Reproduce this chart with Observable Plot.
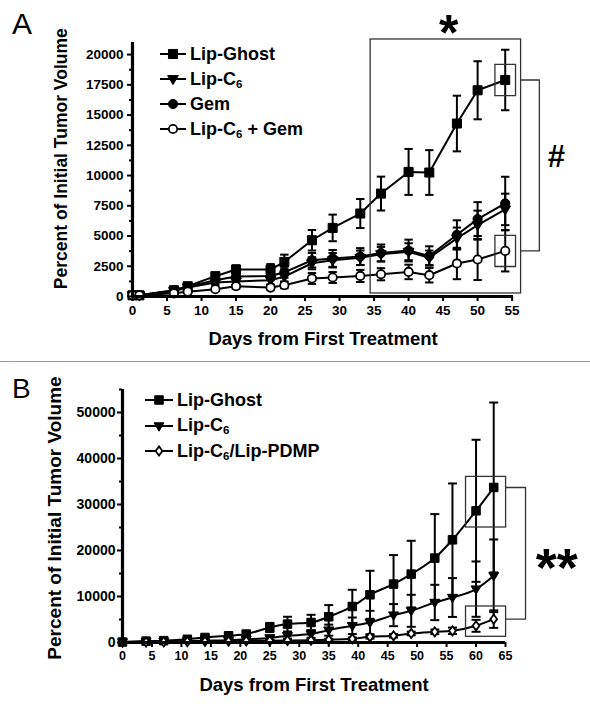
<!DOCTYPE html>
<html><head><meta charset="utf-8">
<script src="https://cdn.jsdelivr.net/npm/d3@7"></script>
<script src="https://cdn.jsdelivr.net/npm/@observablehq/plot@0.6"></script>
<style>
body{margin:0;background:#fff;}
#wrap{position:relative;width:590px;height:708px;overflow:hidden;background:#fff;font-family:Arial,"Liberation Sans",sans-serif;color:#000;}
.panel{position:absolute;left:0;}
.letter{position:absolute;left:12px;font-weight:normal;line-height:1;}
.legend{position:absolute;font-weight:bold;font-size:18px;}
.row{position:absolute;left:0;display:flex;align-items:center;white-space:nowrap;height:20px;}
.row svg{margin-right:4px;}
sub{font-size:11.5px;vertical-align:-3px;line-height:0;}
#sep{position:absolute;left:0;top:361px;width:590px;height:0;border-top:1.6px solid #9a9a9a;}
</style></head><body>
<div id="wrap">
  <div id="panelA" class="panel" style="top:0"></div>
  <div id="sep"></div>
  <div id="panelB" class="panel" style="top:363px"></div>
  <div class="letter" style="top:9px;font-size:30px">A</div>
  <div class="letter" style="top:375px;font-size:28px">B</div>
  <div id="legA" class="legend" style="left:160px;top:0"></div>
  <div id="legB" class="legend" style="left:145px;top:0"></div>
</div>
<script>
// ---------- Panel A data ----------
const A_days = [0, 1, 6, 8, 12, 15, 20, 22, 26, 29, 33, 36, 40, 43, 47, 50, 54];
const A_ghost    = [100, 100, 520, 850, 1680, 2230, 2230, 2860, 4650, 5670, 6860, 8510, 10300, 10250, 14300, 17050, 17900];
const A_ghostErr = [0, 0, 150, 200, 300, 350, 450, 600, 850, 1100, 1200, 1400, 1900, 1850, 2300, 2400, 2500];
const A_c6       = [100, 100, 450, 750, 1150, 1250, 1350, 1650, 2750, 3000, 3200, 3500, 3700, 3200, 4800, 5900, 7200];
const A_c6Err    = [0, 0, 100, 150, 200, 300, 350, 400, 500, 600, 600, 600, 700, 600, 900, 1200, 1300];
const A_gem      = [100, 100, 500, 800, 1350, 1650, 1700, 2000, 3000, 3150, 3300, 3600, 3800, 3350, 5100, 6400, 7700];
const A_gemErr   = [0, 0, 100, 150, 200, 300, 350, 450, 600, 700, 700, 700, 900, 800, 1200, 1400, 2200];
const A_combo    = [100, 100, 260, 400, 600, 850, 740, 930, 1490, 1570, 1700, 1840, 2030, 1760, 2730, 3060, 3770];
const A_comboErr = [0, 0, 80, 100, 150, 200, 200, 250, 450, 450, 500, 500, 600, 600, 1300, 1700, 1700];
const A_yTicks = [0, 2500, 5000, 7500, 10000, 12500, 15000, 17500, 20000];
const A_yMinor = [1250, 3750, 6250, 8750, 11250, 13750, 16250, 18750];
const A_xTicks = [0, 5, 10, 15, 20, 25, 30, 35, 40, 45, 50, 55];
const A_labels = ["Lip-Ghost", "Lip-C<sub>6</sub>", "Gem", "Lip-C<sub>6</sub> + Gem"];
// annotation (significance) in data units
const A_sigBox = [{x1: 34.5, x2: 56.3, y1: 250, y2: 21250}];
const A_bracketX = [56.3, 58.95];
const A_star = [{day: 45.8, v: 21700, label: "*"}];
const A_hash = [{day: 61.4, v: 11500, label: "#"}];

// ---------- Panel B data ----------
const B_days = [0, 4, 7, 11, 14, 18, 21, 25, 28, 32, 35, 39, 42, 46, 49, 53, 56, 60, 63];
const B_ghost    = [100, 300, 400, 700, 1090, 1460, 1830, 3260, 4000, 4350, 5590, 7830, 10370, 12700, 14870, 18350, 22330, 28630, 33700];
const B_ghostErr = [0, 100, 100, 200, 300, 400, 600, 1000, 1600, 1670, 2540, 3630, 5220, 6300, 7240, 9560, 12240, 15440, 18470];
const B_c6       = [100, 150, 200, 300, 400, 500, 700, 1000, 1460, 1830, 2690, 3630, 4350, 5950, 6890, 8700, 9780, 11600, 14500];
const B_c6Err    = [0, 100, 100, 150, 200, 250, 300, 400, 600, 800, 1200, 1800, 2540, 2400, 3480, 3840, 4220, 6010, 7900];
const B_pdmp     = [100, 100, 150, 200, 250, 300, 350, 400, 450, 500, 600, 800, 1240, 1460, 1960, 2320, 2540, 3630, 5080];
const B_pdmpErr  = [0, 0, 0, 50, 50, 50, 80, 100, 100, 150, 200, 300, 400, 400, 400, 500, 700, 1300, 1900];
const B_yTicks = [0, 10000, 20000, 30000, 40000, 50000];
const B_yMinor = [5000, 15000, 25000, 35000, 45000, 55000];
const B_xTicks = [0, 5, 10, 15, 20, 25, 30, 35, 40, 45, 50, 55, 60, 65];
const B_labels = ["Lip-Ghost", "Lip-C<sub>6</sub>", "Lip-C<sub>6</sub>/Lip-PDMP"];
const B_boxes = [{x1: 58.3, x2: 65.1, y1: 25000, y2: 36000}, {x1: 58.3, x2: 65.1, y1: 1240, y2: 7830}];
const B_bracketX = [65.1, 68.4];
const B_star = [{day: 73.7, v: 16000, label: "**"}];

const xTitle = "Days from First Treatment";
const yTitle = "Percent of Initial Tumor Volume";

// ---------- symbols ----------
const rOf = size => Math.sqrt(size / Math.PI);
const triDown = {draw(ctx, size) { const r = rOf(size); const w = r * 1.25, h1 = r * 0.8, h2 = r * 1.3;
  ctx.moveTo(-w, -h1); ctx.lineTo(w, -h1); ctx.lineTo(0, h2); ctx.closePath(); }};
const diamond = {draw(ctx, size) { const r = rOf(size); const w = r * 0.85, h = r * 1.15;
  ctx.moveTo(0, -h); ctx.lineTo(w, 0); ctx.lineTo(0, h); ctx.lineTo(-w, 0); ctx.closePath(); }};
const capSym = {draw(ctx, size) { const r = rOf(size); ctx.moveTo(-r, 0); ctx.lineTo(r, 0); }};
const boxSym = (w, h) => ({draw(ctx) { ctx.rect(-w, -h, 2 * w, 2 * h); }});

const seriesA = [
  {key: "ghost", values: A_ghost, err: A_ghostErr, symbol: "square", r: 5.1, fill: "black"},
  {key: "c6", values: A_c6, err: A_c6Err, symbol: triDown, r: 4.3, fill: "black"},
  {key: "gem", values: A_gem, err: A_gemErr, symbol: "circle", r: 4.6, fill: "black"},
  {key: "combo", values: A_combo, err: A_comboErr, symbol: "circle", r: 4.2, fill: "white"}
];
const seriesB = [
  {key: "ghost", values: B_ghost, err: B_ghostErr, symbol: "square", r: 4.8, fill: "black"},
  {key: "c6", values: B_c6, err: B_c6Err, symbol: triDown, r: 4.0, fill: "black"},
  {key: "pdmp", values: B_pdmp, err: B_pdmpErr, symbol: diamond, r: 4.0, fill: "white"}
];
const tidy = (series, days) => series.flatMap(s => days.map((d, i) => ({series: s.key, day: d, v: s.values[i], e: s.err[i]})));

function panel(cfg) {
  const rows = tidy(cfg.series, cfg.days);
  const errs = rows.filter(d => d.e > 0);
  const marks = [
    Plot.line(rows, {x: "day", y: "v", z: "series", stroke: "black", strokeWidth: 2, curve: cfg.curve}),
    Plot.ruleX(errs, {x: "day", y1: d => d.v - d.e, y2: d => d.v + d.e, stroke: "black", strokeWidth: 2}),
    Plot.dot(errs, {x: "day", y: d => d.v + d.e, symbol: capSym, r: cfg.cap, fill: "none", stroke: "black", strokeWidth: 2}),
    Plot.dot(errs, {x: "day", y: d => d.v - d.e, symbol: capSym, r: cfg.cap, fill: "none", stroke: "black", strokeWidth: 2}),
    ...cfg.series.map(s => Plot.dot(rows.filter(d => d.series === s.key), {x: "day", y: "v", symbol: s.symbol, r: s.r, fill: s.fill, stroke: "black", strokeWidth: s.fill === "white" ? 1.8 : 1})),
    Plot.ruleX([0], {stroke: "black", strokeWidth: 3.2}),
    Plot.ruleY([0], {stroke: "black", strokeWidth: 3.2}),
    Plot.axisX(cfg.xTicks, {tickSize: 5, tickPadding: 4, strokeWidth: 2, fontSize: cfg.xFont, tickFormat: d => String(d), label: null}),
    Plot.axisY(cfg.yTicks, {tickSize: 5, tickPadding: cfg.yPad, strokeWidth: 2, fontSize: cfg.yFont, tickFormat: d => String(d), label: null}),
    Plot.axisY(cfg.yMinor, {tickSize: 3, strokeWidth: 2, tickFormat: () => "", label: null}),
    Plot.text([xTitle], {frameAnchor: "bottom", lineAnchor: "middle", dy: cfg.xTitleDy, fontSize: 18.5, fontWeight: "bold"}),
    Plot.text([yTitle], {frameAnchor: "left", rotate: -90, lineAnchor: "middle", textAnchor: "middle", dx: cfg.yTitleDx, dy: cfg.yTitleDy, fontSize: cfg.yTitleFont, fontWeight: "bold"}),
    ...cfg.annotations
  ];
  return Plot.plot({
    width: 590, height: cfg.height,
    marginLeft: cfg.ml, marginRight: cfg.mr, marginTop: cfg.mt, marginBottom: cfg.mb,
    x: {domain: cfg.xDomain, axis: null},
    y: {domain: cfg.yDomain, axis: null},
    style: {fontFamily: "Arial, 'Liberation Sans', sans-serif", fontWeight: "bold", color: "black", background: "transparent", overflow: "visible"},
    marks
  });
}

// ----- Panel A -----
const nA = A_days.length - 1;
const A_boxPts = [{day: A_days[nA], v: A_ghost[nA]}, {day: A_days[nA], v: A_combo[nA]}];
const A_bracket = [
  {day: A_bracketX[0], v: A_ghost[nA]}, {day: A_bracketX[1], v: A_ghost[nA]},
  {day: A_bracketX[1], v: A_combo[nA]}, {day: A_bracketX[0], v: A_combo[nA]}
];
const plotA = panel({
  series: seriesA, days: A_days, curve: "linear", cap: 4.2,
  height: 362, ml: 132, mr: 77, mt: 42, mb: 66,
  xDomain: [0, 55.2], yDomain: [0, 21000],
  xTicks: A_xTicks, yTicks: A_yTicks, yMinor: A_yMinor,
  xFont: 13.5, yFont: 13.5, yPad: 4,
  xTitleDy: 43, yTitleDx: -71, yTitleDy: -10.8, yTitleFont: 17.5,
  annotations: [
    Plot.rect(A_sigBox, {x1: "x1", x2: "x2", y1: "y1", y2: "y2", fill: "none", stroke: "#333", strokeWidth: 1.3}),
    Plot.dot(A_boxPts, {x: "day", y: "v", symbol: boxSym(10.3, 15.6), r: 5, fill: "none", stroke: "#333", strokeWidth: 1.3}),
    Plot.line(A_bracket, {x: "day", y: "v", stroke: "#333", strokeWidth: 1.3}),
    Plot.text(A_star, {x: "day", y: "v", text: "label", fontSize: 50, fontWeight: "bold", lineAnchor: "middle", fill: "black"}),
    Plot.text(A_hash, {x: "day", y: "v", text: "label", fontSize: 31, fontWeight: "bold", lineAnchor: "middle", fill: "black"})
  ]
});
document.getElementById("panelA").appendChild(plotA);

// ----- Panel B -----
const nB = B_days.length - 1;
const B_bracket = [
  {day: B_bracketX[0], v: B_ghost[nB]}, {day: B_bracketX[1], v: B_ghost[nB]},
  {day: B_bracketX[1], v: B_pdmp[nB]}, {day: B_bracketX[0], v: B_pdmp[nB]}
];
const plotB = panel({
  series: seriesB, days: B_days, curve: "monotone-x", cap: 4.5,
  height: 345, ml: 122, mr: 85, mt: 26, mb: 66,
  xDomain: [0, 65], yDomain: [0, 55000],
  xTicks: B_xTicks, yTicks: B_yTicks, yMinor: B_yMinor,
  xFont: 12.5, yFont: 14, yPad: 2,
  xTitleDy: 42.5, yTitleDx: -68, yTitleDy: 2, yTitleFont: 19,
  annotations: [
    Plot.rect(B_boxes, {x1: "x1", x2: "x2", y1: "y1", y2: "y2", fill: "none", stroke: "#333", strokeWidth: 1.3}),
    Plot.line(B_bracket, {x: "day", y: "v", stroke: "#333", strokeWidth: 1.3}),
    Plot.text(B_star, {x: "day", y: "v", text: "label", fontSize: 54, fontWeight: "bold", lineAnchor: "middle", fill: "black"})
  ]
});
document.getElementById("panelB").appendChild(plotB);

// ----- Legends (HTML) -----
function legend(el, series, labels, centers, lineW) {
  const root = document.getElementById(el);
  series.forEach((s, i) => {
    const row = document.createElement("div");
    row.className = "row";
    row.style.top = (centers[i] - 10) + "px";
    const size = Math.PI * s.r * s.r;
    const sym = typeof s.symbol === "string" ? (s.symbol === "square" ? d3.symbolSquare : d3.symbolCircle) : s.symbol;
    const path = d3.symbol(sym, size)();
    const sw = s.fill === "white" ? 1.8 : 1;
    row.innerHTML = `<svg width="${lineW}" height="20"><line x1="0" x2="${lineW}" y1="10" y2="10" stroke="black" stroke-width="2"/>` +
      `<path d="${path}" transform="translate(${lineW / 2},10)" fill="${s.fill}" stroke="black" stroke-width="${sw}"/></svg>` +
      `<span>${labels[i]}</span>`;
    root.appendChild(row);
  });
}
legend("legA", seriesA, A_labels, [54, 79, 104, 129], 26);
legend("legB", seriesB, B_labels, [400, 425.5, 451], 28);
</script>
</body></html>
